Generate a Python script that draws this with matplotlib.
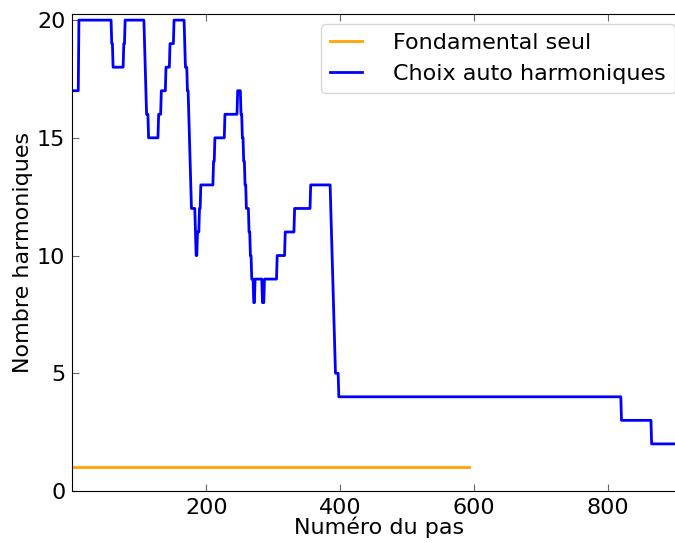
import numpy as np
import matplotlib
matplotlib.use("Agg")
import matplotlib.pyplot as plt

# nombre d'harmoniques : (pas de debut, valeur) -> chaque valeur tient jusqu'au debut suivant
debut_pas = [0, 10, 59, 61, 77, 79, 108, 109, 110, 111, 114, 129, 133, 140, 146,
             152, 168, 169, 172, 174, 175, 176, 177, 178, 184, 185, 187, 190, 191,
             192, 210, 211, 213, 228, 247, 252, 254, 256, 258, 260, 262, 264, 265,
             266, 268, 271, 273, 284, 287, 306, 318, 332, 356, 386, 387, 388, 389,
             390, 391, 392, 393, 398, 820, 865]
nb_harm = [17, 20, 19, 18, 19, 20, 19, 18, 17, 16, 15, 16, 17, 18, 19,
           20, 19, 18, 17, 16, 15, 14, 13, 12, 11, 10, 11, 12, 12,
           13, 13, 14, 15, 16, 17, 16, 15, 14, 13, 12, 12, 11, 11,
           10, 9, 8, 9, 8, 9, 10, 11, 12, 13, 12, 11, 10, 9,
           8, 7, 6, 5, 4, 3, 2]
dernier_pas = 915

# fondamental seul
fond_pas = [0, 593]
fond_val = [1, 1]

longueurs = np.diff(debut_pas + [dernier_pas + 1])
harm = np.repeat(nb_harm, longueurs)
pas = np.arange(len(harm))

plt.rcParams['font.family'] = 'DejaVu Sans'
plt.rcParams['font.size'] = 16

fig = plt.figure(figsize=(6.75, 5.43), dpi=100)
ax = fig.add_axes([0.107, 0.0958, 0.908, 0.878])

ax.plot(fond_pas, fond_val, color='orange', lw=2, label='Fondamental seul')
ax.plot(pas, harm, color='blue', lw=2, label='Choix auto harmoniques')

ax.set_xlim(0, dernier_pas)
ax.set_ylim(0, 20.25)
ax.set_xticks([200, 400, 600, 800])
ax.set_yticks([0, 5, 10, 15, 20])
ax.tick_params(direction='in', length=5, width=0.8, top=True, right=True,
               labelsize=16, color='0.4', pad=5)
ax.set_xlabel('Numéro du pas', fontsize=16, labelpad=-1)
ax.set_ylabel('Nombre harmoniques', fontsize=16, labelpad=3)

ax.legend(loc='upper right', fontsize=16, handlelength=1.45, handletextpad=1.4,
          labelspacing=0.5, borderaxespad=0.45)

fig.savefig('out.png', dpi=100)
